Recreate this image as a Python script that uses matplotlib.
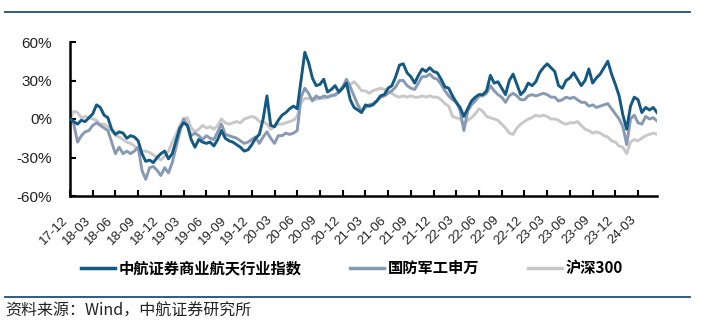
import numpy as np
import matplotlib
matplotlib.use("Agg")
import matplotlib.pyplot as plt
from matplotlib.lines import Line2D

# ---- data (cumulative return, %, semi-monthly readings from 2017-12) ----
series_names = ["中航证券商业航天行业指数", "国防军工申万", "沪深300"]

space_idx = [
    0, -2, -4, -1, -2, 1,
    4, 11, 9, 3, 1, -8,
    -12, -10, -11, -15, -13, -14,
    -17, -27, -33, -32, -34, -30,
    -27, -25, -31, -27, -17, -7,
    -3, -5, -16, -22, -16, -18,
    -19, -18, -21, -16, -9, -15,
    -17, -18, -20, -22, -25, -24,
    -20, -15, -12, 0, 18, -5,
    -6, -1, 3, 5, 8, 10,
    8, 30, 52, 44, 32, 26,
    27, 31, 21, 23, 26, 21,
    24, 28, 15, 9, 7, 5,
    11, 10, 11, 14, 18, 19,
    24, 26, 33, 42, 43, 36,
    33, 28, 34, 39, 37, 40,
    37, 36, 31, 25, 24, 18,
    13, 9, 2, 8, 14, 17,
    19, 19, 22, 34, 28, 29,
    24, 19, 30, 35, 27, 19,
    22, 28, 26, 29, 36, 40,
    43, 40, 37, 26, 24, 30,
    32, 36, 31, 26, 30, 39,
    28, 32, 35, 40, 45, 35,
    27, 18, 3, -8, 10, 17,
    15, 5, 9, 7, 9, 5,
]

defense_sw = [
    0, -4, -18, -13, -10, -9,
    -5, -3, -5, -7, -9, -18,
    -27, -22, -27, -25, -27, -25,
    -22, -40, -47, -38, -37, -40,
    -44, -38, -42, -34, -22, -10,
    0, -5, -13, -11, -13, -16,
    -13, -15, -16, -10, -4, -12,
    -13, -14, -15, -17, -19, -18,
    -16, -14, -19, -14, -10, -15,
    -19, -13, -13, -11, -12, -11,
    -9, 17, 24, 20, 14, 18,
    16, 18, 17, 18, 19, 21,
    25, 31, 25, 18, 11, 6,
    9, 11, 12, 14, 17, 18,
    20, 22, 25, 30, 30, 26,
    24, 23, 28, 33, 33, 35,
    32, 31, 27, 22, 18, 15,
    13, 7, -9, 6, 11, 14,
    18, 18, 20, 26, 22, 19,
    17, 13, 18, 20, 18, 15,
    15, 18, 19, 18, 19, 20,
    19, 17, 17, 14, 15, 17,
    16, 17, 15, 13, 13, 10,
    11, 9, 10, 11, 12, 8,
    4, 0, -6, -20, 0, 3,
    -3, -4, 2, 0, 1, -1.5,
]

hs300 = [
    0, 6, 5, 1, 2, 1,
    0, -1, -4, -4, -6, -9,
    -13, -14, -16, -18, -19, -21,
    -24, -25, -25, -26, -28, -30,
    -32, -29, -25, -18, -12, -5,
    0, 1, -7, -10, -8, -5,
    -7, -6, -8, -5, 0, -3,
    -4, -3, -2, -3, 0, 1,
    2, 1, -2, -2, -4, -8,
    -6, -4, -4, -3, -2, -1,
    2, 13, 16, 16, 16, 15,
    17, 16, 17, 19, 18, 21,
    25, 28, 27, 29, 26, 22,
    22, 20, 22, 23, 24, 23,
    22, 20, 18, 17, 18, 17,
    18, 17, 17, 18, 17, 18,
    17, 17, 15, 12, 10, 2,
    1, 0, -4, -1, 1, 4,
    8, 6, 2, 1, 0, -1,
    -4, -7, -11, -12, -7, -4,
    -2, 0, 1, 3, 2, 3,
    2, 0, 0, -1, -3, -4,
    -3, -3, -2, -5, -8, -9,
    -11, -10, -11, -13, -14, -17,
    -18, -21, -22, -27, -18, -16,
    -17, -15, -13, -12, -11, -12,
]

tick_labels = ["17-12", "18-03", "18-06", "18-09", "18-12", "19-03", "19-06",
               "19-09", "19-12", "20-03", "20-06", "20-09", "20-12", "21-03",
               "21-06", "21-09", "21-12", "22-03", "22-06", "22-09", "22-12",
               "23-03", "23-06", "23-09", "23-12", "24-03"]
y_ticks = [-60, -30, 0, 30, 60]

colors = ["#135983", "#8799b3", "#c8c8c8"]

# ---- figure ----
W, H = 701, 328
fig = plt.figure(figsize=(W / 100, H / 100), dpi=100)
ax = fig.add_axes([70 / W, 1 - 196 / H, (657 - 70) / W, (196 - 42) / H])

months = np.arange(len(space_idx)) * 0.5  # semi-monthly positions (months since 2017-12)

for vals, c, z in zip([space_idx, defense_sw, hs300], colors, [3, 2, 1]):
    ax.plot(months[:len(vals)], vals, color=c, lw=2.1, zorder=z,
            solid_joinstyle="round")

ax.set_xlim(0, 77.5)
ax.set_ylim(-60, 60)
ax.set_yticks(y_ticks)
ax.set_yticklabels([f"{v}%" for v in y_ticks])
ax.set_xticks(np.arange(len(tick_labels)) * 3)
ax.set_xticklabels(tick_labels, rotation=45, ha="right", va="top")

for s in ["top", "right"]:
    ax.spines[s].set_visible(False)
for s in ["left", "bottom"]:
    ax.spines[s].set_linewidth(1.8)
    ax.spines[s].set_color("black")

ax.tick_params(axis="y", direction="in", length=4, width=1.5, pad=13,
               labelsize=11, labelcolor="#222222")
ax.tick_params(axis="x", direction="in", length=4, width=1.5, pad=13,
               labelsize=9.5, labelcolor="#222222")
for lab in ax.get_xticklabels() + ax.get_yticklabels():
    lab.set_fontfamily(["Liberation Sans", "DejaVu Sans"])

# legend
handles = [Line2D([0], [0], color=c, lw=2.5) for c in colors]
leg = fig.legend(handles, series_names, loc="center", ncol=3,
                 bbox_to_anchor=(352 / W, 1 - 268 / H), frameon=False,
                 handlelength=2.2, handletextpad=0.25, columnspacing=3.2,
                 prop={"family": ["Noto Sans CJK SC", "DejaVu Sans"],
                       "size": 11, "weight": "bold"})

# header / footer rules
fig.add_artist(Line2D([5 / W, 690 / W], [1 - 12 / H, 1 - 12 / H],
                      color="#1f4e79", lw=1.3))
fig.add_artist(Line2D([5 / W, 690 / W], [1 - 297 / H, 1 - 297 / H],
                      color="#1f4e79", lw=1.3))

fig.text(5 / W, 1 - 311 / H, "资料来源：Wind，中航证券研究所",
         family=["Noto Sans CJK SC", "DejaVu Sans"], fontsize=11.5,
         color="#222222", va="center", ha="left")

fig.savefig("out.png", dpi=100)
